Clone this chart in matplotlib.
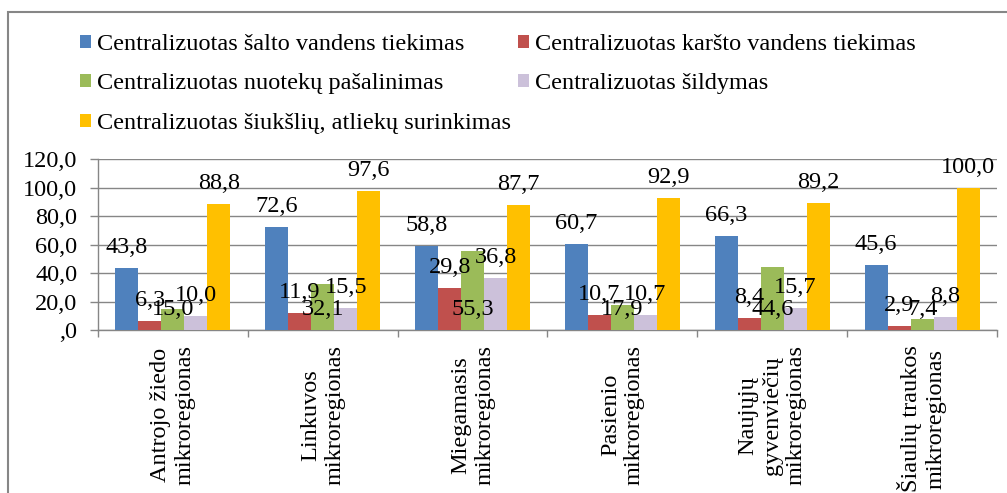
import matplotlib
matplotlib.use("Agg")
import matplotlib.pyplot as plt
import numpy as np
from matplotlib.patches import Rectangle
from matplotlib.ticker import FuncFormatter, FixedLocator

plt.rcParams['font.family'] = ['Liberation Serif', 'DejaVu Serif']

# Duomenys
regions = ["Antrojo žiedo\nmikroregionas", "Linkuvos\nmikroregionas",
           "Miegamasis\nmikroregionas", "Pasienio\nmikroregionas",
           "Naujųjų\ngyvenviečių\nmikroregionas", "Šiaulių traukos\nmikroregionas"]
series = ["Centralizuotas šalto vandens tiekimas",
          "Centralizuotas karšto vandens tiekimas",
          "Centralizuotas nuotekų pašalinimas",
          "Centralizuotas šildymas",
          "Centralizuotas šiukšlių, atliekų surinkimas"]
salto = [43.8, 72.6, 58.8, 60.7, 66.3, 45.6]
karsto = [6.3, 11.9, 29.8, 10.7, 8.4, 2.9]
nuoteku = [15.0, 32.1, 55.3, 17.9, 44.6, 7.4]
sildymas = [10.0, 15.5, 36.8, 10.7, 15.7, 8.8]
siuksliu = [88.8, 97.6, 87.7, 92.9, 89.2, 100.0]
values = [salto, karsto, nuoteku, sildymas, siuksliu]
colors = ["#4F81BD", "#C0504D", "#9BBB59", "#CCC1DA", "#FFC000"]

W, H = 1007, 493
fig = plt.figure(figsize=(W / 100, H / 100), dpi=100)
ax = fig.add_axes([98 / W, (H - 330) / H, (997 - 98) / W, (330 - 159.3) / H])

x = np.arange(len(regions))
bw = 0.1533
handles = []
for i, (vals, c) in enumerate(zip(values, colors)):
    pos = x + (i - 2) * bw
    b = ax.bar(pos, vals, bw, color=c, zorder=3)
    handles.append(b)
    for p, v in zip(pos, vals):
        # žalios serijos žymės Excel'yje atsidūrė ties pagrindu
        base = 0 if i == 2 else v
        ax.annotate(f"{v:.1f}".replace('.', ','), (p, base), xytext=(0, 14.8),
                    textcoords='offset points', ha='center', va='center',
                    fontsize=17.5, zorder=4)

ax.set_xlim(-0.5, len(regions) - 0.5)
ax.set_ylim(0, 120)
ax.set_yticks(np.arange(0, 121, 20))
ax.yaxis.set_major_formatter(FuncFormatter(
    lambda v, _: ",0" if v == 0 else f"{v:.1f}".replace('.', ',')))
ax.grid(axis='y', color='#868686', linewidth=1, zorder=0)
ax.set_xticks(x)
ax.set_xticklabels(regions, rotation=90, ha='center', va='top',
                   multialignment='center', fontsize=17.5)
ax.xaxis.set_minor_locator(FixedLocator(np.arange(-0.5, len(regions), 1)))
ax.tick_params(axis='x', which='major', length=0, pad=11)
ax.tick_params(axis='x', which='minor', length=5, color='#868686', width=1)
ax.tick_params(axis='y', length=6, color='#868686', width=1, pad=9, labelsize=17.5)
for s in ['top', 'right']:
    ax.spines[s].set_visible(False)
for s in ['left', 'bottom']:
    ax.spines[s].set_color('#868686')
    ax.spines[s].set_linewidth(1)

order = [0, 2, 4, 1, 3]
fig.legend([handles[k] for k in order], [series[k] for k in order],
           loc='upper left', bbox_to_anchor=(80 / W, 1 - 34 / H), ncol=2,
           frameon=False, fontsize=17.5, handlelength=0.45, handleheight=0.45,
           handletextpad=0.25, columnspacing=0.3, labelspacing=0.76,
           borderaxespad=0, borderpad=0)

fig.patches.append(Rectangle((8 / W, -0.1), 1.1, 1.1 - 12 / H, transform=fig.transFigure,
                             fill=False, edgecolor='#868686', linewidth=1.5))

fig.savefig("out.png", dpi=100)
